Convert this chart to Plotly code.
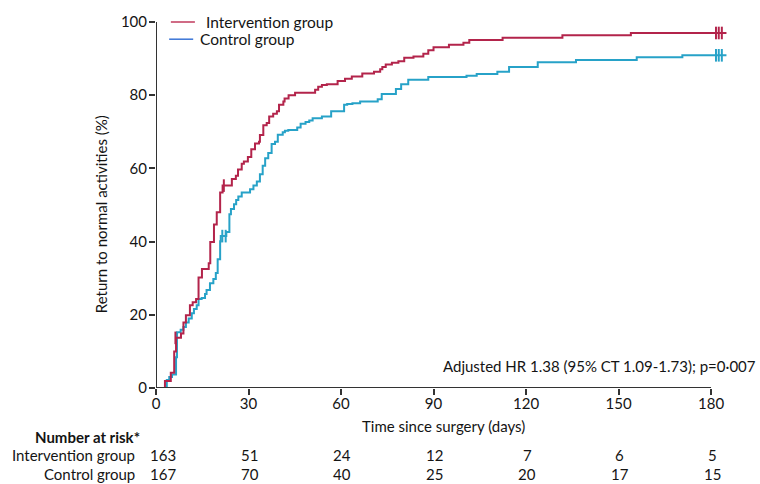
import plotly.graph_objects as go

# Kaplan-Meier style cumulative return to normal activities (%)
int_days = [0, 2.9, 4.8, 5.9, 6.5, 8.1, 8.9, 9.7, 11.0, 11.9, 13.0, 13.8, 14.9, 17.1, 17.6,
            18.8, 19.7, 20.8, 21.6, 24.6, 25.9, 26.6, 27.8, 28.5, 29.8, 30.9, 32.1, 33.4, 33.7,
            34.8, 35.9, 36.7, 38.0, 39.2, 39.9, 41.3, 41.7, 43.0, 45.1, 51.6, 52.6, 53.8, 55.4,
            58.9, 61.3, 63.5, 66.9, 70.7, 72.7, 73.4, 74.5, 76.5, 78.6, 80.5, 83.5, 86.7, 88.3,
            90.0, 95.0, 99.7, 101.6, 112.4, 131.8, 154.0, 185.0]
int_pct = [0, 1.9, 4.2, 10.0, 13.7, 14.9, 17.9, 19.9, 22.6, 23.4, 24.3, 30.2, 32.5, 34.1, 39.9,
           44.7, 48.0, 53.4, 55.3, 57.1, 58.0, 59.7, 61.3, 61.9, 63.1, 65.2, 66.8, 67.3, 69.1,
           71.8, 72.4, 74.2, 74.9, 75.6, 77.4, 78.3, 79.1, 80.0, 80.7, 81.5, 82.3, 82.8, 83.0,
           83.9, 84.5, 85.1, 85.9, 86.4, 87.1, 87.7, 88.4, 88.9, 89.3, 90.2, 90.6, 91.3, 92.3,
           93.1, 93.8, 94.3, 95.1, 95.7, 96.4, 97.0, 97.0]

ctl_days = [0, 3.5, 4.3, 5.2, 6.5, 6.8, 8.0, 8.9, 9.7, 10.6, 11.6, 12.3, 13.2, 13.8, 14.8, 15.9,
            16.4, 17.5, 18.6, 19.4, 20.0, 20.8, 21.0, 22.8, 23.8, 24.3, 25.3, 26.0, 26.7, 27.8,
            30.5, 31.6, 32.7, 33.7, 34.6, 35.4, 36.4, 37.5, 38.6, 39.5, 41.1, 41.8, 42.9, 45.8,
            46.9, 48.5, 49.7, 50.8, 53.8, 56.8, 61.0, 62.0, 63.7, 66.2, 71.9, 73.2, 77.8, 79.5,
            81.8, 88.3, 100.7, 104.0, 110.7, 114.5, 123.8, 136.2, 155.9, 170.7, 185.0]
ctl_pct = [0, 2.2, 3.0, 3.7, 8.4, 15.2, 15.9, 16.7, 17.9, 19.0, 20.4, 21.6, 22.6, 24.3, 24.6, 25.7,
           26.8, 28.6, 29.8, 31.4, 35.2, 40.1, 41.5, 42.6, 47.5, 48.9, 50.2, 51.4, 52.3, 53.4,
           54.3, 55.3, 56.4, 58.4, 60.7, 62.8, 64.2, 66.7, 67.3, 69.2, 69.9, 70.3, 70.5, 71.2,
           72.2, 72.7, 73.1, 73.7, 74.2, 75.6, 77.4, 77.6, 77.8, 78.3, 78.9, 80.3, 81.7, 83.0,
           84.2, 85.0, 85.3, 85.8, 86.4, 87.7, 89.0, 89.6, 90.4, 90.9, 90.9]

# Censoring marks
int_cens_days = [6.3, 22.0, 181.6, 182.5, 183.5]
int_cens_pct = [13.7, 55.3, 97.0, 97.0, 97.0]
ctl_cens_days = [21.5, 22.6, 181.6, 182.5, 183.5]
ctl_cens_pct = [41.5, 41.5, 90.9, 90.9, 90.9]

# Number at risk table
risk_days = [0, 30, 60, 90, 120, 150, 180]
risk_int = [163, 51, 24, 12, 7, 6, 5]
risk_ctl = [167, 70, 40, 25, 20, 17, 15]

x_ticks = [0, 30, 60, 90, 120, 150, 180]
y_ticks = [0, 20, 40, 60, 80, 100]

RED = "#b3244b"
BLUE = "#27a2c8"
LEG_RED = "#c03a5c"
LEG_BLUE = "#3a74d6"
AX = "#333333"
FONT = "Lato"
TXT = "#141414"
FS = 15

fig = go.Figure()
fig.add_trace(go.Scatter(x=ctl_days, y=ctl_pct, mode="lines", line=dict(color=BLUE, width=2, shape="hv"),
                         showlegend=False, hoverinfo="skip"))
fig.add_trace(go.Scatter(x=int_days, y=int_pct, mode="lines", line=dict(color=RED, width=2, shape="hv"),
                         showlegend=False, hoverinfo="skip"))
fig.add_trace(go.Scatter(x=ctl_cens_days, y=ctl_cens_pct, mode="markers",
                         marker=dict(symbol="line-ns", size=9, line=dict(color=BLUE, width=2)),
                         showlegend=False, hoverinfo="skip"))
fig.add_trace(go.Scatter(x=int_cens_days, y=int_cens_pct, mode="markers",
                         marker=dict(symbol="line-ns", size=9, line=dict(color=RED, width=2)),
                         showlegend=False, hoverinfo="skip"))

shapes = [
    dict(type="line", xref="x", yref="y", x0=0, x1=180, y0=0, y1=0, line=dict(color=AX, width=2)),
    dict(type="line", xref="x", yref="y", x0=0, x1=0, y0=0, y1=100, line=dict(color=AX, width=2)),
    # legend keys
    dict(type="line", xref="paper", yref="paper", x0=0.026, x1=0.068, y0=1.0, y1=1.0,
         line=dict(color=LEG_RED, width=1.5)),
    dict(type="line", xref="paper", yref="paper", x0=0.023, x1=0.065, y0=0.953, y1=0.953,
         line=dict(color=LEG_BLUE, width=1.5)),
]

annotations = [
    dict(text="Intervention group", xref="paper", yref="paper", x=0.084, y=1.0, xanchor="left",
         yanchor="middle", showarrow=False, font=dict(family=FONT, size=15.5, color=TXT)),
    dict(text="Control group", xref="paper", yref="paper", x=0.074, y=0.953, xanchor="left",
         yanchor="middle", showarrow=False, font=dict(family=FONT, size=15.5, color=TXT)),
    dict(text="Adjusted HR 1.38 (95% CT 1.09-1.73); p=0·007", xref="paper", yref="paper",
         x=1.053, y=0.06, xanchor="right", yanchor="middle", showarrow=False,
         font=dict(family=FONT, size=FS, color=TXT)),
    dict(text="Time since surgery (days)", xref="paper", yref="paper", x=0.503, y=-0.105,
         xanchor="center", yanchor="middle", showarrow=False, font=dict(family=FONT, size=FS, color=TXT)),
    dict(text="Return to normal activities (%)", xref="paper", yref="paper", x=-0.096, y=0.475,
         xanchor="center", yanchor="middle", textangle=-90, showarrow=False,
         font=dict(family=FONT, size=FS, color=TXT)),
    dict(text="<b>Number at risk*</b>", xref="paper", yref="paper", x=-0.024, y=-0.133,
         xanchor="right", yanchor="middle", showarrow=False, font=dict(family=FONT, size=FS, color=TXT)),
    dict(text="Intervention group", xref="paper", yref="paper", x=-0.033, y=-0.184,
         xanchor="right", yanchor="middle", showarrow=False, font=dict(family=FONT, size=FS, color=TXT)),
    dict(text="Control group", xref="paper", yref="paper", x=-0.033, y=-0.235,
         xanchor="right", yanchor="middle", showarrow=False, font=dict(family=FONT, size=FS, color=TXT)),
]
for d, a, b in zip(risk_days, risk_int, risk_ctl):
    shift = 7 if d == 0 else 1
    for val, yy in ((a, -0.184), (b, -0.235)):
        annotations.append(dict(text=str(val), xref="x", yref="paper", x=d, y=yy, xshift=shift,
                                xanchor="center", yanchor="middle", showarrow=False,
                                font=dict(family=FONT, size=FS, color=TXT)))

fig.update_layout(
    width=760, height=484,
    margin=dict(l=156, r=32, t=17, b=96),
    plot_bgcolor="white", paper_bgcolor="white",
    shapes=shapes, annotations=annotations,
    xaxis=dict(range=[0, 185.5], tickvals=x_ticks, ticks="outside", ticklen=6, tickwidth=2,
               tickcolor=AX, showgrid=False, zeroline=False, showline=False,
               ticklabelstandoff=-4,
               tickfont=dict(family=FONT, size=FS, color=TXT)),
    yaxis=dict(range=[0, 100], tickvals=y_ticks, ticks="outside", ticklen=6, tickwidth=2,
               tickcolor=AX, showgrid=False, zeroline=False, showline=False,
               ticklabelstandoff=-1,
               tickfont=dict(family=FONT, size=FS, color=TXT)),
)

fig.write_html("out.html")
